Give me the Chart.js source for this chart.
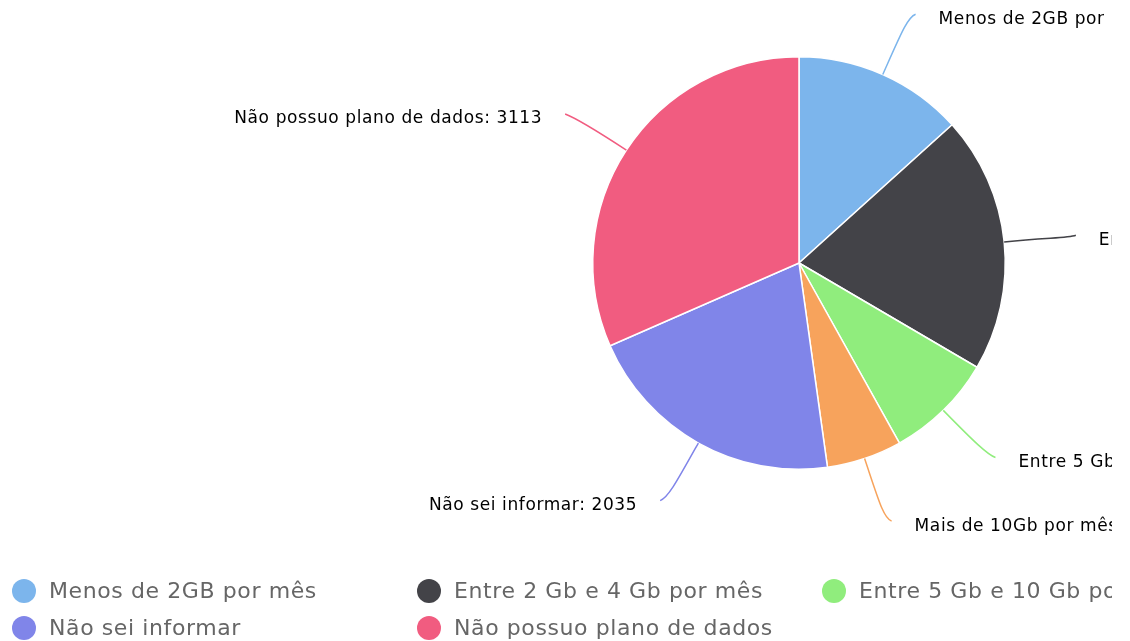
<!DOCTYPE html>
<html>
<head>
<meta charset="utf-8">
<script src="https://cdn.jsdelivr.net/npm/chart.js@4"></script>
<style>
  body { margin: 0; background: #fff; }
  .clip { width: 1112px; height: 641px; overflow: hidden; }
  .wrap { width: 1598px; height: 641px; }
</style>
</head>
<body>
<div class="clip"><div class="wrap"><canvas id="planChart" width="1598" height="641"></canvas></div></div>
<script>
// Data
const categories = [
  "Menos de 2GB por mês",
  "Entre 2 Gb e 4 Gb por mês",
  "Entre 5 Gb e 10 Gb por mês",
  "Mais de 10Gb por mês",
  "Não sei informar",
  "Não possuo plano de dados",
];
const values = [1313, 1984, 835, 581, 2035, 3113];
const colors = ["#7cb5ec", "#434348", "#90ed7d", "#f7a35c", "#8085e9", "#f15c80"];

const FONT = '"DejaVu Sans", Verdana, sans-serif';

// Labels with connectors outside the pie
const pieLabels = {
  id: "pieLabels",
  afterDatasetsDraw(chart) {
    const ctx = chart.ctx;
    const meta = chart.getDatasetMeta(0);
    ctx.save();
    ctx.font = "17px " + FONT;
    ctx.letterSpacing = "0.6px";
    ctx.textBaseline = "middle";
    meta.data.forEach((arc, i) => {
      const p = arc.getProps(["x", "y", "startAngle", "endAngle", "outerRadius"], true);
      const mid = (p.startAngle + p.endAngle) / 2;
      const cos = Math.cos(mid);
      const sin = Math.sin(mid);
      const right = cos >= 0;
      const dir = right ? 1 : -1;
      const r = p.outerRadius;
      const sx = p.x + cos * r, sy = p.y + sin * r;
      const c1x = p.x + cos * (r + 45), c1y = p.y + sin * (r + 45);
      const ex = p.x + cos * (r + 66) + dir * 6, ey = p.y + sin * (r + 66);
      const c2x = ex - dir * 8, c2y = ey + (sin < 0 ? 3 : -3);

      ctx.strokeStyle = colors[i];
      ctx.lineWidth = 1.5;
      ctx.beginPath();
      ctx.moveTo(sx, sy);
      ctx.bezierCurveTo(c1x, c1y, c2x, c2y, ex, ey);
      ctx.stroke();

      ctx.fillStyle = "#000";
      ctx.textAlign = right ? "left" : "right";
      ctx.fillText(categories[i] + ": " + values[i], ex + dir * 23, ey + 5);
    });
    ctx.restore();
  },
};

// Legend in columns below the pie
const columnLegend = {
  id: "columnLegend",
  afterDraw(chart) {
    const ctx = chart.ctx;
    ctx.save();
    ctx.font = "22px " + FONT;
    ctx.letterSpacing = "0.6px";
    ctx.textBaseline = "middle";
    ctx.textAlign = "left";
    categories.forEach((label, i) => {
      const col = i % 4;
      const row = Math.floor(i / 4);
      const x = 12 + col * 405;
      const y = 591 + row * 37;
      ctx.fillStyle = colors[i];
      ctx.beginPath();
      ctx.arc(x + 12, y, 12, 0, Math.PI * 2);
      ctx.fill();
      ctx.fillStyle = "#666";
      ctx.fillText(label, x + 37, y + 1);
    });
    ctx.restore();
  },
};

new Chart(document.getElementById("planChart"), {
  type: "pie",
  data: {
    labels: categories,
    datasets: [
      {
        data: values,
        backgroundColor: colors,
        borderColor: "#fff",
        borderWidth: 1.5,
      },
    ],
  },
  options: {
    responsive: false,
    animation: false,
    layout: { padding: { top: 56, bottom: 171, left: 0, right: 0 } },
    plugins: {
      legend: { display: false },
      tooltip: { enabled: false },
    },
  },
  plugins: [pieLabels, columnLegend],
});
</script>
</body>
</html>
